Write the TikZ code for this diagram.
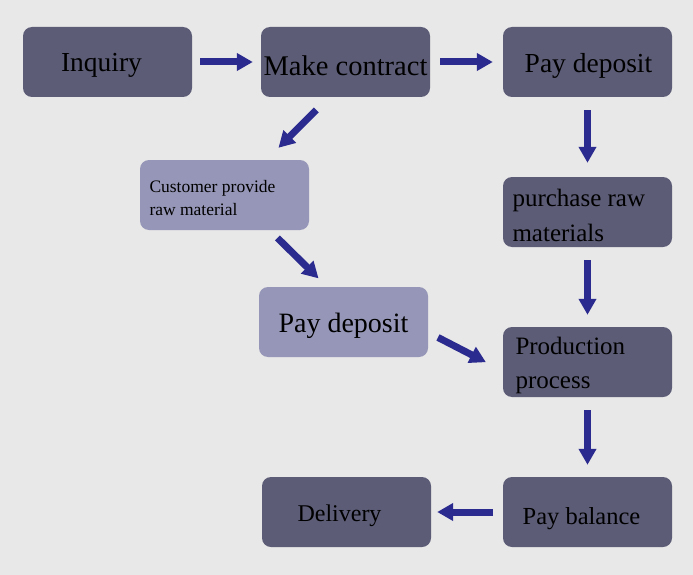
\documentclass[tikz,border=0pt]{standalone}
\usepackage{fontspec}
\setmainfont{Liberation Serif}
\usepackage{tikz}
\usetikzlibrary{arrows.meta}
\definecolor{paper}{HTML}{E8E8E8}
\definecolor{darkbox}{HTML}{5C5C77}
\definecolor{lightbox}{HTML}{9697B8}
\definecolor{flowblue}{HTML}{2B2A8E}
% lower a label inside its box without changing the box
\newcommand{\dn}[2][3.5pt]{\raisebox{-#1}[\height][\depth]{#2}}
\newcommand{\twolines}[2]{\dn{\parbox{150pt}{\raggedright #1\\#2}}}

\begin{document}
\begin{tikzpicture}[x=1pt,y=-1pt,
  box/.style={fill=darkbox,rounded corners=9pt,minimum width=169pt,minimum height=70pt,
              inner sep=0pt,text=black,font=\fontsize{27.5}{32}\selectfont},
  softbox/.style={box,fill=lightbox},
  twoline/.style={font=\fontsize{25}{34.5}\selectfont},
  flow/.style={flowblue,line width=7pt,-{Triangle[length=16pt,width=17pt]}}]
\fill[paper] (0,0) rectangle (693,575);
\useasboundingbox (0,0) rectangle (693,575);
% top row
\node[box] (inq) at (107.5,62) {\dn{Inquiry}\hspace*{12pt}};
\node[box,font=\fontsize{28.5}{32}\selectfont] (mc) at (345.5,62) {\dn{Make contract}};
\node[box] (pd1) at (587.5,62) {\hspace*{2pt}\dn{Pay deposit}};
% customer supplied branch
\node[softbox,font=\fontsize{17.5}{23}\selectfont] (cust) at (224.5,195)
  {\twolines{Customer provide}{raw material}};
\node[softbox,font=\fontsize{28}{32}\selectfont] (pd2) at (343.5,322) {\dn{Pay deposit}};
% right column
\node[box,twoline] (buy) at (587.5,212) {\twolines{purchase raw}{materials}};
\node[box,twoline] (prod) at (587.5,362) {\twolines{\hspace*{3pt}Production}{\hspace*{3pt}process}};
\node[box,font=\fontsize{24.5}{30}\selectfont] (bal) at (587.5,512) {\dn[7pt]{Pay balance}\hspace*{12pt}};
\node[box,font=\fontsize{24}{30}\selectfont] (del) at (346.5,512) {\dn{Delivery}\hspace*{14pt}};
% arrows
\draw[flow,shorten <=8pt,shorten >=8pt] (inq) -- (mc);
\draw[flow,shorten <=10pt,shorten >=10pt] (mc) -- (pd1);
\draw[flow,shorten <=18pt,shorten >=17pt] (mc.245) -- (cust.40);
\draw[flow,shorten <=11pt,shorten >=12pt] (cust.322) -- (pd2.115);
\draw[flow,shorten <=11pt,shorten >=19pt] (pd2.-7) -- (prod.186);
\draw[flow,shorten <=13pt,shorten >=14pt] (pd1) -- (buy);
\draw[flow,shorten <=13pt,shorten >=12pt] (buy) -- (prod);
\draw[flow,shorten <=13pt,shorten >=12pt] (prod) -- (bal);
\draw[flow,shorten <=10pt,shorten >=6pt] (bal) -- (del);
\end{tikzpicture}
\end{document}
